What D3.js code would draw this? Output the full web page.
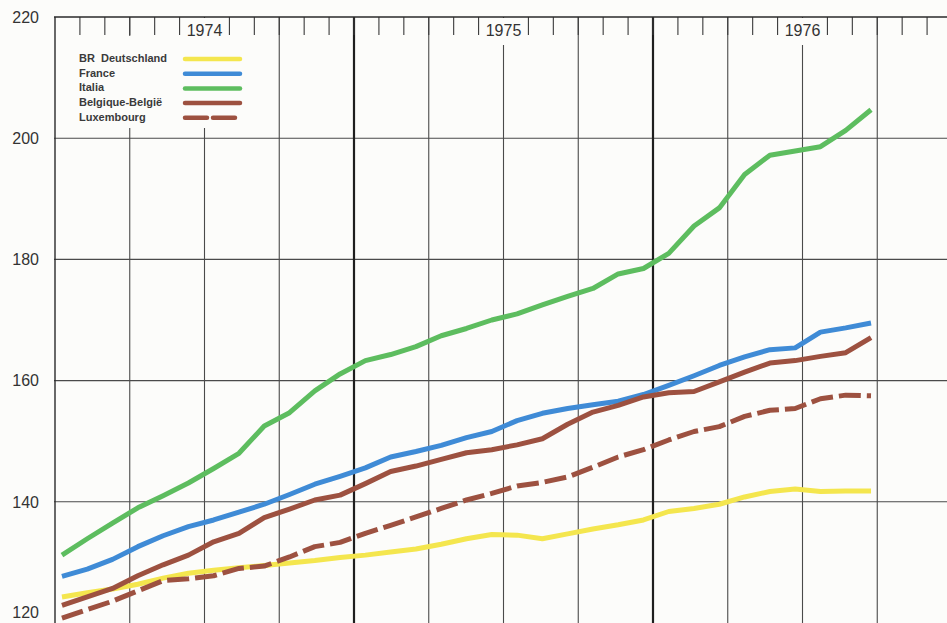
<!DOCTYPE html>
<html><head><meta charset="utf-8">
<script src="https://cdn.jsdelivr.net/npm/d3@7/dist/d3.min.js"></script>
<style>
html,body{margin:0;padding:0;background:#fcfcfa;overflow:hidden;}
svg{display:block;}
</style></head>
<body>
<svg id="chart" width="947" height="623"></svg>
<script>
// ---- data (monthly index values, Jan 1974 .. Sep 1976) ----
const years = ["1974", "1975", "1976"];
const yTicks = [120, 140, 160, 180, 200, 220];
const seriesNames = ["BR Deutschland", "France", "Italia", "Belgique-België", "Luxembourg"];
const deutschland = [124.3,125.0,125.6,126.4,127.4,128.2,128.7,129.1,129.5,129.9,130.3,130.8,131.2,131.7,132.2,133.0,133.9,134.6,134.5,133.9,134.7,135.5,136.2,137.0,138.4,138.9,139.6,140.8,141.7,142.1,141.7,141.8,141.8];
const france      = [127.7,128.9,130.5,132.6,134.4,135.9,137.0,138.3,139.6,141.2,142.9,144.2,145.6,147.4,148.3,149.3,150.6,151.6,153.4,154.6,155.4,156.0,156.6,157.7,159.2,160.8,162.5,163.9,165.1,165.4,168.0,168.7,169.5];
const italia      = [131.2,133.9,136.5,139.0,141.0,143.1,145.5,148.0,152.5,154.7,158.3,161.1,163.3,164.3,165.6,167.4,168.6,170.0,171.0,172.5,173.9,175.2,177.6,178.5,181.0,185.5,188.5,194.0,197.2,197.9,198.6,201.3,204.7];
const belgique    = [122.9,124.3,125.7,127.8,129.6,131.2,133.4,134.8,137.4,138.8,140.3,141.1,143.0,145.0,145.9,147.0,148.1,148.6,149.4,150.4,152.8,154.8,155.9,157.3,158.0,158.2,159.8,161.4,162.9,163.3,164.0,164.6,167.1];
const luxembourg  = [120.8,122.2,123.6,125.3,127.0,127.3,127.8,129.0,129.4,130.9,132.6,133.3,134.8,136.1,137.5,138.9,140.3,141.4,142.6,143.2,144.1,145.7,147.4,148.6,150.2,151.6,152.4,154.1,155.1,155.4,157.0,157.6,157.5];
const seriesValues = [deutschland, france, italia, belgique, luxembourg];
const seriesColors = ["#f4e64e", "#3f8bd6", "#5dbd5f", "#9d5140", "#9d5140"];
const seriesDash = [null, null, null, null, "22,6"];

// ---- layout ----
const svg = d3.select("#chart");
const W = 947, H = 623;
const leftX = 55, topY = 17, bottomY = 623;

// months since Jan 1974
const x = d3.scaleLinear().domain([0, 24]).range([leftX, 653]);
const y = d3.scaleLinear().domain([120, 220]).range([bottomY, topY]);
const xData = d3.scaleLinear().domain([0, deutschland.length - 1]).range([x(0.28), x(32.75)]);

// horizontal gridlines
svg.append("g").selectAll("line").data(yTicks.filter(v => v > 120 && v < 220)).join("line")
  .attr("x1", leftX - 1).attr("x2", W).attr("y1", d => y(d)).attr("y2", d => y(d))
  .attr("stroke", "#4a4a4a").attr("stroke-width", 1.1);

// quarterly vertical gridlines
const quarters = d3.range(3, 36, 3).filter(m => m % 12 !== 0);
svg.append("g").selectAll("line").data(quarters).join("line")
  .attr("x1", d => x(d)).attr("x2", d => x(d)).attr("y1", topY).attr("y2", bottomY)
  .attr("stroke", "#4a4a4a").attr("stroke-width", 1.1);

// year boundaries (thick)
svg.append("g").selectAll("line").data([12, 24]).join("line")
  .attr("x1", d => x(d)).attr("x2", d => x(d)).attr("y1", topY).attr("y2", bottomY)
  .attr("stroke", "#1e1e1e").attr("stroke-width", 2.2);

// monthly ticks at top
svg.append("g").selectAll("line").data(d3.range(1, 37)).join("line")
  .attr("x1", d => x(d)).attr("x2", d => x(d)).attr("y1", topY).attr("y2", topY + 18)
  .attr("stroke", "#3a3a3a").attr("stroke-width", 1.1);

// left axis and top line
svg.append("line").attr("x1", leftX).attr("x2", leftX).attr("y1", topY).attr("y2", bottomY)
  .attr("stroke", "#2a2a2a").attr("stroke-width", 1.4);
svg.append("line").attr("x1", leftX - 1).attr("x2", W).attr("y1", topY).attr("y2", topY)
  .attr("stroke", "#2a2a2a").attr("stroke-width", 1.4);

// year labels with white background
const yl = svg.append("g").selectAll("g").data(years).join("g")
  .attr("transform", (d, i) => `translate(${x(i * 12 + 6)},0)`);
yl.append("rect").attr("x", -21).attr("y", topY + 1).attr("width", 42).attr("height", 27).attr("fill", "#fcfcfa");
yl.append("text").attr("y", 36).attr("text-anchor", "middle")
  .attr("font-family", "Liberation Sans, Arial, sans-serif").attr("font-size", 16).attr("fill", "#333")
  .text(d => d);

// y labels (the bottom one kept just inside the page edge)
svg.append("g").selectAll("text").data(yTicks).join("text")
  .attr("x", 39).attr("y", d => d === 120 ? y(d) - 5 : y(d))
  .attr("dy", d => d === 120 ? "0" : "0.36em").attr("text-anchor", "end")
  .attr("font-family", "Liberation Sans, Arial, sans-serif").attr("font-size", 16).attr("fill", "#333")
  .text(d => d);

// legend background
svg.append("rect").attr("x", leftX + 2).attr("y", topY + 19).attr("width", 205).attr("height", 92)
  .attr("fill", "#fcfcfa");

// series lines
const line = d3.line().x((d, i) => xData(i)).y(d => y(d));
svg.append("g").selectAll("path").data(seriesValues).join("path")
  .attr("d", d => line(d))
  .attr("fill", "none")
  .attr("stroke", (d, i) => seriesColors[i])
  .attr("stroke-width", 5)
  .attr("stroke-linejoin", "round")
  .attr("stroke-linecap", "butt")
  .attr("stroke-dasharray", (d, i) => seriesDash[i]);

// legend
const lg = svg.append("g").selectAll("g").data(seriesNames).join("g")
  .attr("transform", (d, i) => `translate(0,${62 + i * 14.7})`);
lg.append("text").attr("x", 79).attr("y", 0)
  .attr("font-family", "Liberation Sans, Arial, sans-serif").attr("font-size", 11).attr("font-weight", "bold")
  .attr("fill", "#3a3a3a")
  .text(d => d === "BR Deutschland" ? "BR\u00a0\u00a0Deutschland" : d);
lg.append("line").attr("x1", 185).attr("x2", 240).attr("y1", -3).attr("y2", -3)
  .attr("stroke", (d, i) => seriesColors[i]).attr("stroke-width", 4.5)
  .attr("stroke-linecap", "round")
  .attr("stroke-dasharray", (d, i) => seriesDash[i] ? "22,6" : null);
</script>
</body></html>
